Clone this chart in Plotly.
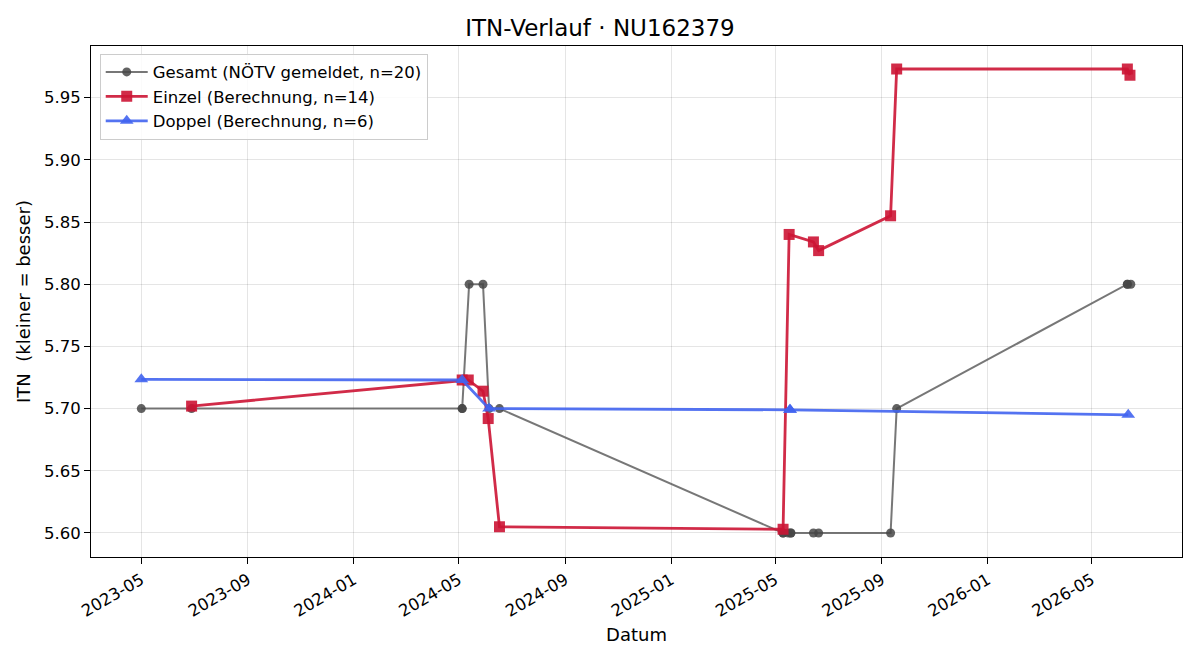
import plotly.graph_objects as go

# Gesamt (NÖTV gemeldet)
gesamt_dates = ["2023-05-01", "2023-06-28", "2024-05-05", "2024-05-05", "2024-05-13", "2024-05-29",
                "2024-06-05", "2024-06-17", "2025-05-10", "2025-05-10", "2025-05-16", "2025-05-19",
                "2025-05-19", "2025-06-14", "2025-06-20", "2025-09-11", "2025-09-18", "2026-06-11",
                "2026-06-11", "2026-06-15"]
gesamt_vals = [5.70, 5.70, 5.70, 5.70, 5.80, 5.80,
               5.70, 5.70, 5.60, 5.60, 5.60, 5.60,
               5.60, 5.60, 5.60, 5.60, 5.70, 5.80,
               5.80, 5.80]

# Einzel (Berechnung)
einzel_dates = ["2023-06-28", "2024-05-05", "2024-05-12", "2024-05-29", "2024-06-04", "2024-06-17",
                "2025-05-10", "2025-05-17", "2025-06-14", "2025-06-20", "2025-09-11", "2025-09-18",
                "2026-06-11", "2026-06-14"]
einzel_vals = [5.702, 5.723, 5.723, 5.714, 5.692, 5.605,
               5.603, 5.840, 5.834, 5.827, 5.855, 5.973,
               5.973, 5.968]

# Doppel (Berechnung)
doppel_dates = ["2023-05-01", "2024-05-05", "2024-06-05", "2025-05-18", "2025-05-18", "2026-06-12"]
doppel_vals = [5.7235, 5.723, 5.700, 5.699, 5.699, 5.695]

tick_vals = ["2023-05-01", "2023-09-01", "2024-01-01", "2024-05-01", "2024-09-01", "2025-01-01",
             "2025-05-01", "2025-09-01", "2026-01-01", "2026-05-01"]
tick_text = ["2023-05", "2023-09", "2024-01", "2024-05", "2024-09", "2025-01",
             "2025-05", "2025-09", "2026-01", "2026-05"]

fig = go.Figure()
fig.add_trace(go.Scatter(
    x=gesamt_dates, y=gesamt_vals, mode="lines+markers",
    name="Gesamt (NÖTV gemeldet, n=20)",
    line=dict(color="rgba(85,85,85,0.8)", width=2),
    marker=dict(symbol="circle", size=9, color="rgba(70,70,70,0.85)")))
fig.add_trace(go.Scatter(
    x=einzel_dates, y=einzel_vals, mode="lines+markers",
    name="Einzel (Berechnung, n=14)",
    line=dict(color="rgba(204,20,52,0.9)", width=2.8),
    marker=dict(symbol="square", size=11, color="rgba(204,20,52,0.9)")))
fig.add_trace(go.Scatter(
    x=doppel_dates, y=doppel_vals, mode="lines+markers",
    name="Doppel (Berechnung, n=6)",
    line=dict(color="rgba(65,100,240,0.9)", width=2.8),
    marker=dict(symbol="triangle-up", size=12, color="rgba(65,100,240,0.9)")))

fig.update_layout(
    width=1200, height=660,
    paper_bgcolor="white", plot_bgcolor="white",
    font=dict(family="DejaVu Sans", size=16.5, color="black"),
    title=dict(text="ITN-Verlauf · NU162379", x=0.5, xanchor="center", y=0.957,
               yanchor="middle", font=dict(size=23)),
    margin=dict(l=91, r=18, t=46, b=103),
    legend=dict(x=0.008, y=0.985, xanchor="left", yanchor="top",
                bgcolor="rgba(255,255,255,0.85)", bordercolor="#cccccc", borderwidth=1,
                font=dict(size=16.5), tracegroupgap=0, itemwidth=42),
    showlegend=True,
)
fig.update_xaxes(
    type="date", range=["2023-03-04", "2026-08-13"],
    tickvals=tick_vals, ticktext=tick_text, tickangle=-30,
    showgrid=True, gridcolor="rgba(0,0,0,0.1)", gridwidth=1,
    showline=True, linecolor="black", linewidth=1, mirror=True,
    ticks="outside", ticklen=6, tickcolor="black",
    tickfont=dict(size=16.5),
    title=dict(text="Datum", font=dict(size=18), standoff=8),
    zeroline=False)
fig.update_yaxes(
    range=[5.5807, 5.9915], dtick=0.05, tickformat=".2f",
    showgrid=True, gridcolor="rgba(0,0,0,0.1)", gridwidth=1,
    showline=True, linecolor="black", linewidth=1, mirror=True,
    ticks="outside", ticklen=6, tickcolor="black",
    tickfont=dict(size=16.5),
    title=dict(text="ITN  (kleiner = besser)", font=dict(size=18), standoff=8),
    zeroline=False)

fig.write_html("out.html")
